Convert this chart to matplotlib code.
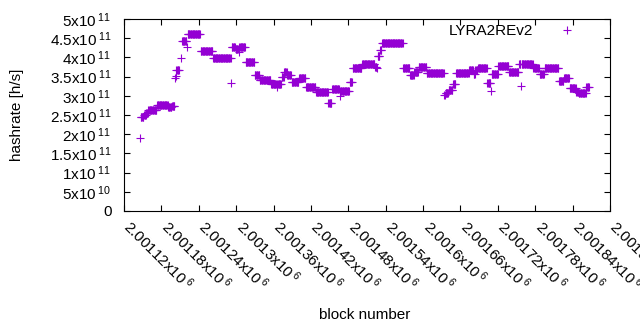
import numpy as np
import matplotlib
matplotlib.use("Agg")
import matplotlib.pyplot as plt
import matplotlib.transforms as mtransforms

plt.rcParams['font.family'] = ['Liberation Sans', 'DejaVu Sans']
plt.rcParams['mathtext.fontset'] = 'custom'
plt.rcParams['mathtext.rm'] = 'Liberation Sans'
plt.rcParams['mathtext.it'] = 'Liberation Sans'

# runs of blocks with (about) the same hashrate
run_first = [2001146, 2001147, 2001152, 2001156, 2001159, 2001173, 2001191, 2001197,
             2001202, 2001203, 2001204, 2001211, 2001213, 2001221, 2001222, 2001243,
             2001263, 2001292, 2001293, 2001299, 2001304, 2001305, 2001315, 2001330,
             2001338, 2001356, 2001366, 2001367, 2001373, 2001377, 2001382, 2001389,
             2001401, 2001412, 2001428, 2001448, 2001454, 2001466, 2001467, 2001482,
             2001487, 2001502, 2001523, 2001526, 2001527, 2001531, 2001534, 2001568,
             2001579, 2001586, 2001593, 2001606, 2001634, 2001636, 2001641, 2001648,
             2001653, 2001674, 2001681, 2001684, 2001688, 2001703, 2001709, 2001710,
             2001721, 2001738, 2001754, 2001757, 2001758, 2001777, 2001787, 2001795,
             2001818, 2001826, 2001835, 2001846, 2001850, 2001862]
run_last = [2001146, 2001151, 2001155, 2001158, 2001172, 2001190, 2001196, 2001201,
            2001202, 2001203, 2001208, 2001211, 2001220, 2001221, 2001242, 2001262,
            2001291, 2001292, 2001298, 2001303, 2001304, 2001314, 2001329, 2001337,
            2001355, 2001365, 2001366, 2001372, 2001376, 2001381, 2001388, 2001400,
            2001411, 2001427, 2001447, 2001453, 2001465, 2001466, 2001481, 2001486,
            2001501, 2001522, 2001525, 2001526, 2001530, 2001533, 2001567, 2001578,
            2001585, 2001592, 2001605, 2001633, 2001635, 2001640, 2001647, 2001652,
            2001673, 2001680, 2001683, 2001687, 2001702, 2001708, 2001709, 2001720,
            2001737, 2001753, 2001756, 2001757, 2001776, 2001786, 2001794, 2001817,
            2001825, 2001834, 2001845, 2001849, 2001861, 2001866]
run_rate = [1.89, 2.44, 2.50, 2.55, 2.62, 2.75, 2.71, 2.74,
            3.47, 3.52, 3.67, 3.98, 4.43, 4.28, 4.60, 4.16,
            3.98, 3.34, 4.28, 4.23, 4.13, 4.28, 3.87, 3.53,
            3.41, 3.32, 3.24, 3.32, 3.50, 3.63, 3.54, 3.37,
            3.46, 3.22, 3.09, 2.80, 3.19, 3.00, 3.13, 3.35,
            3.72, 3.82, 3.74, 3.72, 4.03, 4.18, 4.37, 3.72,
            3.54, 3.63, 3.74, 3.59, 3.02, 3.07, 3.15, 3.30,
            3.59, 3.68, 3.57, 3.68, 3.72, 3.33, 3.12, 3.56,
            3.77, 3.62, 3.82, 3.26, 3.82, 3.72, 3.58, 3.72,
            3.39, 3.46, 3.21, 3.11, 3.07, 3.22]

blocks = np.concatenate([np.arange(a, b + 1) for a, b in zip(run_first, run_last)])
rates = np.concatenate([np.full(b - a + 1, r * 1e11) for a, b, r in zip(run_first, run_last, run_rate)])

xticks = np.arange(2001120, 2001901, 60)
yticks = np.arange(0, 5.01e11, 5e10)

def ylab(v):
    if v == 0:
        return "0"
    e = int(np.floor(np.log10(v)))
    return "%gx10$^{\\;%d}$" % (v / 10**e, e)

fig = plt.figure(figsize=(6.4, 3.3), dpi=100)
ax = fig.add_axes([124/640, 119/330, 486/640, 192/330])

ax.plot(blocks, rates, linestyle='none', marker='+', markersize=5.2,
        markeredgewidth=0.8, color='#9400d3', label='LYRA2REv2')

ax.set_xlim(2001120, 2001900)
ax.set_ylim(0, 5e11)
ax.set_xticks(xticks)
ax.set_xticklabels(["%gx10$^{\\;6}$" % (t / 1e6) for t in xticks],
                   rotation=-45, ha='left', va='center', rotation_mode='anchor')
ax.set_yticks(yticks)
ax.set_yticklabels([ylab(v) for v in yticks])
ax.tick_params(direction='in', length=4, width=0.8, top=True, right=True,
               labelsize=11, colors='black')
ax.tick_params(axis='x', pad=9)
ax.tick_params(axis='y', pad=9)
for s in ax.spines.values():
    s.set_linewidth(0.8)

# nudge the slanted labels a little to the right, as in the original
shift = mtransforms.ScaledTranslation(3/100, 0, fig.dpi_scale_trans)
for lab in ax.get_xticklabels():
    lab.set_transform(lab.get_transform() + shift)

ax.set_xlabel('block number', fontsize=11)
ax.set_ylabel('hashrate [h/s]', fontsize=11)
ax.xaxis.set_label_coords(0.496, -0.505)
ax.yaxis.set_label_coords(-0.206, 0.5)

ax.legend(loc='center right', bbox_to_anchor=(0.942, 0.9375), markerfirst=False,
          frameon=False, fontsize=11, handlelength=2, handletextpad=1.2,
          borderpad=0, borderaxespad=0)

fig.savefig('out.png', dpi=100)
